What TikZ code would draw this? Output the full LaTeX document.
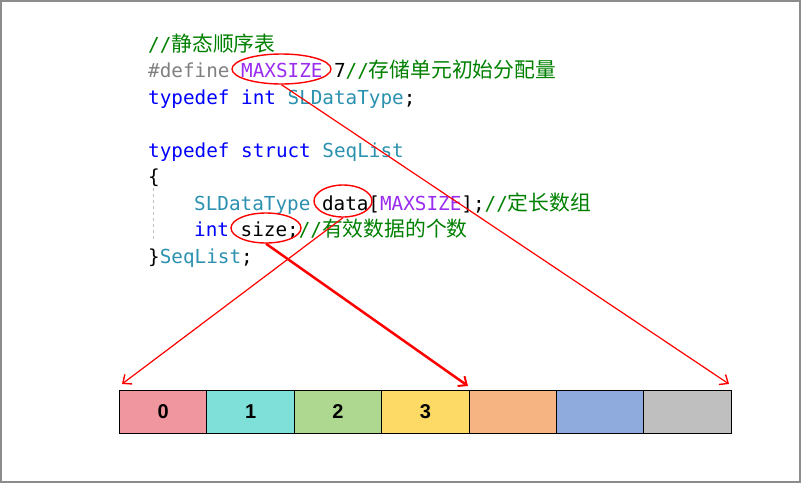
\documentclass[tikz,border=0pt]{standalone}
\usepackage{fontspec}
\setmonofont{DejaVu Sans Mono}
\setsansfont{Liberation Sans}
\newfontfamily\cjk{Noto Sans CJK SC}
\usetikzlibrary{shapes.geometric,arrows.meta}
\definecolor{cmt}{HTML}{008000}
\definecolor{kw}{HTML}{0000FF}
\definecolor{ty}{HTML}{2B91AF}
\definecolor{mac}{HTML}{9A2CF0}
\definecolor{pp}{HTML}{808080}
\definecolor{cA}{HTML}{F0969E}
\definecolor{cB}{HTML}{7FDFD9}
\definecolor{cC}{HTML}{AED88F}
\definecolor{cD}{HTML}{FDD966}
\definecolor{cE}{HTML}{F5B482}
\definecolor{cF}{HTML}{8FAADC}
\definecolor{cG}{HTML}{BFBFBF}
\definecolor{frame}{HTML}{8C8C8C}
\newcommand{\zh}[1]{{\cjk\fontsize{20.8}{21}\selectfont #1}}
\begin{document}
\begin{tikzpicture}[x=1pt,y=-1pt,
  codeline/.style={anchor=base west,inner sep=0pt,font=\ttfamily\fontsize{19.3}{20}\selectfont},
  mark ellipse/.style={ellipse,draw=red,line width=1.4pt,inner sep=0pt},
  cellbox/.style={draw=black,line width=0.9pt,minimum width=87.4pt,minimum height=43pt,inner sep=0pt,font=\sffamily\bfseries\fontsize{20}{21}\selectfont},
  ptr/.style={red,line width=1.2pt,-{Straight Barb[length=7pt,width=12pt,line width=1.4pt]}},
  ptrthick/.style={red,line width=2.5pt,-{Straight Barb[length=7pt,width=12pt,line width=2pt]}}]
\useasboundingbox (0,0) rectangle (801,483);
\draw[frame,line width=2pt] (1,1) rectangle (800,482);

% code
\node[codeline] (l1) at (148,51) {\textcolor{cmt}{//\zh{静态顺序表}}};
\node[codeline] (l2) at (148,77.5) {\textcolor{pp}{\#define }\textcolor{mac}{MAXSIZE} 7\textcolor{cmt}{//\zh{存储单元初始分配量}}};
\node[codeline] (l3) at (148,104) {\textcolor{kw}{typedef int }\textcolor{ty}{SLDataType};};
\node[codeline] (l5) at (148,157) {\textcolor{kw}{typedef struct }\textcolor{ty}{SeqList}};
\node[codeline] (l6) at (148,183.5) {\{};
\node[codeline] (l7) at (194,210) {\textcolor{ty}{SLDataType }data[\textcolor{mac}{MAXSIZE}];\textcolor{cmt}{//\zh{定长数组}}};
\node[codeline] (l8) at (194,236.5) {\textcolor{kw}{int }size;\textcolor{cmt}{//\zh{有效数据的个数}}};
\node[codeline] (l9) at (148,263) {\}\textcolor{ty}{SeqList};};
\draw[black!25,dashed,line width=0.6pt] (153,188) -- (153,242);

% highlight ellipses
\node[mark ellipse,minimum width=99pt,minimum height=30pt] (mx) at (281.5,69) {};
\node[mark ellipse,minimum width=58pt,minimum height=32pt] (dt) at (343,201) {};
\node[mark ellipse,minimum width=70pt,minimum height=30pt] (sz) at (266,228) {};

% array cells
\node[cellbox,fill=cA] (c0) at (163.2,411.5) {0};
\node[cellbox,fill=cB] (c1) at (250.6,411.5) {1};
\node[cellbox,fill=cC] (c2) at (338.0,411.5) {2};
\node[cellbox,fill=cD] (c3) at (425.4,411.5) {3};
\node[cellbox,fill=cE] (c4) at (512.8,411.5) {};
\node[cellbox,fill=cF] (c5) at (600.2,411.5) {};
\node[cellbox,fill=cG] (c6) at (687.6,411.5) {};

\coordinate (e0) at (122,384);
\coordinate (e3) at (468,386);
\coordinate (e6) at (729,384);

% pointers
\draw[ptr] (dt.south) -- (e0);
\draw[ptr] (mx.south) -- (e6);
\draw[ptrthick] (sz.south) -- (e3);
\end{tikzpicture}
\end{document}
